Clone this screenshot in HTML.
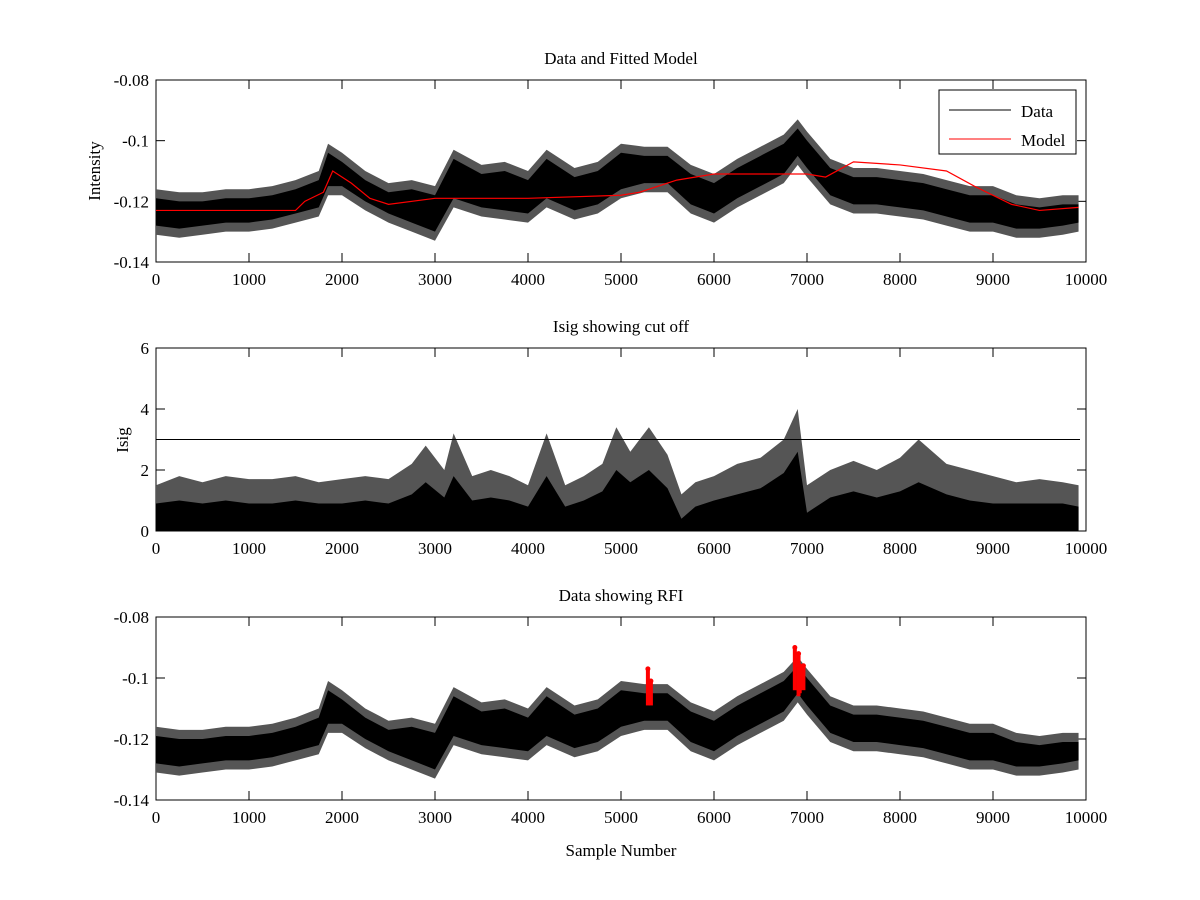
<!DOCTYPE html>
<html><head><meta charset="utf-8">
<style>
html,body{margin:0;padding:0;background:#fff;}
svg{display:block;font-family:"Liberation Serif","DejaVu Serif",serif;}
</style></head>
<body>
<svg id="fig" width="1200" height="900" viewBox="0 0 1200 900" xmlns="http://www.w3.org/2000/svg"></svg>
<script>
// ---- data ----
const binX = [0,250,500,750,1000,1250,1500,1750,1850,2000,2250,2500,2750,3000,3200,3500,3750,4000,4200,4500,4750,5000,5250,5500,5750,6000,6250,6500,6750,6900,7000,7250,7500,7750,8000,8250,8500,8750,9000,9250,9500,9750,9920];
const dataUpper = [-0.116,-0.117,-0.117,-0.116,-0.116,-0.115,-0.113,-0.110,-0.101,-0.104,-0.110,-0.114,-0.113,-0.115,-0.103,-0.108,-0.107,-0.110,-0.103,-0.109,-0.107,-0.101,-0.102,-0.102,-0.108,-0.111,-0.106,-0.102,-0.098,-0.093,-0.097,-0.106,-0.109,-0.109,-0.110,-0.111,-0.113,-0.115,-0.115,-0.118,-0.119,-0.118,-0.118];
const dataLower = [-0.131,-0.132,-0.131,-0.130,-0.130,-0.129,-0.127,-0.125,-0.118,-0.118,-0.123,-0.127,-0.130,-0.133,-0.122,-0.125,-0.126,-0.127,-0.122,-0.126,-0.124,-0.119,-0.117,-0.117,-0.124,-0.127,-0.122,-0.118,-0.114,-0.108,-0.112,-0.121,-0.124,-0.124,-0.125,-0.126,-0.128,-0.130,-0.130,-0.132,-0.132,-0.131,-0.130];
const modelX = [0,1500,1600,1800,1900,2100,2300,2500,3000,4000,5000,5200,5600,6000,7000,7200,7500,8000,8500,8800,9200,9500,9920];
const modelY = [-0.123,-0.123,-0.120,-0.117,-0.110,-0.114,-0.119,-0.121,-0.119,-0.119,-0.118,-0.117,-0.113,-0.111,-0.111,-0.112,-0.107,-0.108,-0.110,-0.115,-0.121,-0.123,-0.122];
const isigX = [0,250,500,750,1000,1250,1500,1750,2000,2250,2500,2750,2900,3100,3200,3400,3600,3800,4000,4200,4400,4600,4800,4950,5100,5300,5500,5650,5800,6000,6250,6500,6750,6900,7000,7250,7500,7750,8000,8200,8500,8750,9000,9250,9500,9750,9920];
const isigUpper = [1.5,1.8,1.6,1.8,1.7,1.7,1.8,1.6,1.7,1.8,1.7,2.2,2.8,2.0,3.2,1.8,2.0,1.8,1.5,3.2,1.5,1.8,2.2,3.4,2.6,3.4,2.5,1.2,1.6,1.8,2.2,2.4,3.0,4.0,1.5,2.0,2.3,2.0,2.4,3.0,2.2,2.0,1.8,1.6,1.7,1.6,1.5];
const isigCore = [0.9,1.0,0.9,1.0,0.9,0.9,1.0,0.9,0.9,1.0,0.9,1.2,1.6,1.1,1.8,1.0,1.1,1.0,0.8,1.8,0.8,1.0,1.3,2.0,1.6,2.0,1.4,0.4,0.8,1.0,1.2,1.4,1.9,2.6,0.6,1.1,1.3,1.1,1.3,1.6,1.2,1.0,0.9,0.9,0.9,0.9,0.8];
const cutoff = 3;
const rfiX = [5300,5300,6880,6900,6920,6940];
const rfiTop = [-0.097,-0.101,-0.090,-0.096,-0.092,-0.096];
const rfiBot = [-0.109,-0.109,-0.104,-0.105,-0.106,-0.104];
const xTicks = [0,1000,2000,3000,4000,5000,6000,7000,8000,9000,10000];
const yTicksI = [-0.14,-0.12,-0.1,-0.08];
const yTickLabI = ["-0.14","-0.12","-0.1","-0.08"];
const yTicksS = [0,2,4,6];

const svg = document.getElementById('fig');
const NS = 'http://www.w3.org/2000/svg';
function mk(tag, attrs, parent){const e=document.createElementNS(NS,tag);for(const k in attrs)e.setAttribute(k,attrs[k]);(parent||svg).appendChild(e);return e;}
const X0=156,X1=1086;
const sx = v => X0 + (v/10000)*(X1-X0);
const INSET = 0.003;

function axes(top,bot,ymin,ymax,yt,ytl,title,name){
  const sy = v => bot - (v-ymin)/(ymax-ymin)*(bot-top);
  const g = mk('g',{});
  
  
  const r = mk('rect',{x:X0,y:top,width:X1-X0,height:bot-top,fill:'#fff',stroke:'#000','stroke-width':1},g);
  
  
  xTicks.forEach(t=>{
    const x=sx(t);
    mk('line',{x1:x,y1:bot,x2:x,y2:bot-9,stroke:'#000'},g);
    mk('line',{x1:x,y1:top,x2:x,y2:top+9,stroke:'#000'},g);
    const tx=mk('text',{x:x,y:bot+23,'font-size':17,'text-anchor':'middle'},g);
    tx.textContent=t;
    
    
  });
  yt.forEach((t,i)=>{
    const y=sy(t);
    mk('line',{x1:X0,y1:y,x2:X0+9,y2:y,stroke:'#000'},g);
    mk('line',{x1:X1,y1:y,x2:X1-9,y2:y,stroke:'#000'},g);
    const tx=mk('text',{x:X0-7,y:y+6,'font-size':17,'text-anchor':'end'},g);
    tx.textContent=ytl[i];
    
    
  });
  const tt=mk('text',{x:(X0+X1)/2,y:top-16,'font-size':17,'text-anchor':'middle'},g);
  tt.textContent=title;
  
  
  return {g,sy};
}
function band(g,xs,up,lo,sy,name,fill){
  let d='M'+xs.map((x,i)=>sx(x)+','+sy(up[i])).join('L');
  for(let i=xs.length-1;i>=0;i--) d+='L'+sx(xs[i])+','+sy(lo[i]);
  const p=mk('path',{d:d+'Z',fill:fill,stroke:'none'},g);
  
  
}
function dataBand(g,sy,name){
  band(g,binX,dataUpper,dataLower,sy,name+'-envelope','#555');
  band(g,binX,dataUpper.map(v=>v-INSET),dataLower.map(v=>v+INSET),sy,name,'#000');
}

// Plot 1
const a1=axes(80,262,-0.14,-0.08,yTicksI,yTickLabI,'Data and Fitted Model','data-model-plot');
dataBand(a1.g,a1.sy,'data-series');
const m=mk('polyline',{points:modelX.map((x,i)=>sx(x)+','+a1.sy(modelY[i])).join(' '),fill:'none',stroke:'#f00','stroke-width':1.2},a1.g);


const yl1=mk('text',{x:100,y:171,'font-size':17,'text-anchor':'middle',transform:'rotate(-90 100 171)'});
yl1.textContent='Intensity';


// legend
const lg=mk('g',{});


mk('rect',{x:939,y:90,width:137,height:64,fill:'#fff',stroke:'#000'},lg);
mk('line',{x1:949,y1:110,x2:1011,y2:110,stroke:'#000'},lg);
mk('line',{x1:949,y1:139,x2:1011,y2:139,stroke:'#f00'},lg);
const le1=mk('text',{x:1021,y:117,'font-size':17},lg);le1.textContent='Data';


const le2=mk('text',{x:1021,y:146,'font-size':17},lg);le2.textContent='Model';



// Plot 2
const a2=axes(348,531,0,6,yTicksS,yTicksS.map(String),'Isig showing cut off','isig-plot');
band(a2.g,isigX,isigUpper,isigX.map(()=>0),a2.sy,'isig-envelope','#555');
band(a2.g,isigX,isigCore,isigX.map(()=>0),a2.sy,'isig-series','#000');
const cl=mk('line',{x1:X0,y1:a2.sy(cutoff),x2:X1-6,y2:a2.sy(cutoff),stroke:'#000','stroke-width':1},a2.g);


const yl2=mk('text',{x:128,y:440,'font-size':17,'text-anchor':'middle',transform:'rotate(-90 128 440)'});
yl2.textContent='Isig';



// Plot 3
const a3=axes(617,800,-0.14,-0.08,yTicksI,yTickLabI,'Data showing RFI','rfi-plot');
dataBand(a3.g,a3.sy,'data-series-rfi');
rfiX.forEach((x,i)=>{
  const px=sx(x)+(i%2?2:-1);
  const ln=mk('line',{x1:px,y1:a3.sy(rfiTop[i]),x2:px,y2:a3.sy(rfiBot[i]),stroke:'#f00','stroke-width':4},a3.g);
  
  
  const c=mk('circle',{cx:px,cy:a3.sy(rfiTop[i]),r:2.5,fill:'#f00'},a3.g);
  
  
});
const xl=mk('text',{x:621,y:856,'font-size':17,'text-anchor':'middle'});
xl.textContent='Sample Number';


</script>
</body></html>
